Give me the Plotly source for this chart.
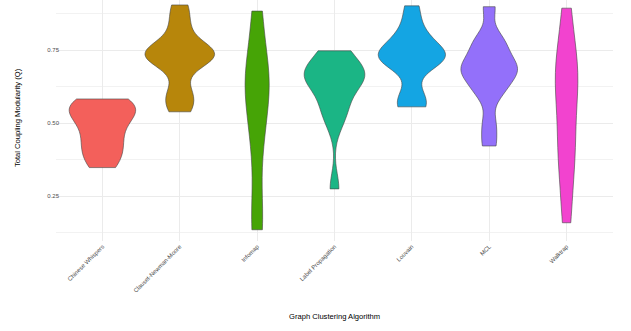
import plotly.graph_objects as go

# Categories (x axis)
algorithms = ["Chinese Whispers", "Clauset-Newman-Moore", "Infomap",
              "Label Propagation", "Louvain", "MCL", "Walktrap"]

# Total coupling modularity samples per algorithm (estimated from the violin outlines)
chinese_whispers = [0.348, 0.378, 0.408, 0.432, 0.462, 0.491, 0.520, 0.535, 0.540,
                    0.567, 0.576, 0.583]
clauset_newman_moore = [0.539, 0.578, 0.609, 0.689, 0.736, 0.736, 0.737, 0.737, 0.738,
                        0.792, 0.848, 0.905]
infomap = [0.135, 0.135, 0.283, 0.461, 0.471, 0.571, 0.642, 0.658, 0.659, 0.681,
           0.839, 0.884]
label_propagation = [0.275, 0.504, 0.558, 0.562, 0.662, 0.663, 0.663, 0.663, 0.664,
                     0.665, 0.748, 0.748]
louvain = [0.556, 0.556, 0.605, 0.714, 0.714, 0.719, 0.732, 0.733, 0.765, 0.785,
           0.833, 0.902]
mcl = [0.422, 0.497, 0.603, 0.621, 0.668, 0.682, 0.685, 0.698, 0.733, 0.779, 0.783,
       0.899]
walktrap = [0.159, 0.245, 0.406, 0.407, 0.413, 0.554, 0.658, 0.659, 0.668, 0.673,
            0.810, 0.894]

series = [chinese_whispers, clauset_newman_moore, infomap, label_propagation,
          louvain, mcl, walktrap]

# Kernel bandwidths per violin
bandwidths = [0.0388, 0.040, 0.1086, 0.0537, 0.0425, 0.0412, 0.1141]

colors = ["#F3605B", "#B7860B", "#46A406", "#1BB585", "#14A5E3", "#9370FA", "#F243CF"]

# Axis ticks
y_tickvals = [0.25, 0.50, 0.75]
y_ticktext = ["0.25", "0.50", "0.75"]
y_minorvals = [0.125, 0.375, 0.625, 0.875]

fig = go.Figure()
for name, vals, bw, col in zip(algorithms, series, bandwidths, colors):
    fig.add_trace(go.Violin(
        x=[name] * len(vals),
        y=vals,
        name=name,
        bandwidth=bw,
        spanmode="hard",
        scalegroup="all",
        scalemode="width",
        points=False,
        fillcolor=col,
        opacity=1,
        line=dict(color="#454545", width=0.6),
        showlegend=False,
        hoverinfo="skip",
    ))

font_family = "Liberation Sans, Arial, Helvetica, sans-serif"

fig.update_layout(
    width=631, height=331,
    margin=dict(l=56, r=18, t=0, b=90),
    plot_bgcolor="white", paper_bgcolor="white",
    violinmode="overlay", violingap=0.1, violingroupgap=0,
    showlegend=False,
    font=dict(family=font_family, color="#000000"),
    xaxis=dict(
        type="category", categoryorder="array", categoryarray=algorithms,
        range=[-0.6, 6.6], tickangle=-45,
        tickfont=dict(size=6, color="#4D4D4D", family=font_family),
        showgrid=True, gridcolor="#EBEBEB", gridwidth=1,
        zeroline=False, showline=False, ticks="", automargin=False,
    ),
    yaxis=dict(
        range=[0.0965, 0.922],
        tickmode="array", tickvals=y_tickvals, ticktext=y_ticktext,
        tickfont=dict(size=6, color="#4D4D4D", family=font_family),
        showgrid=True, gridcolor="#EBEBEB", gridwidth=1,
        minor=dict(tickmode="array", tickvals=y_minorvals, showgrid=True,
                   gridcolor="#F2F2F2", gridwidth=0.6),
        zeroline=False, showline=False, ticks="", ticklen=0,
        ticklabelstandoff=-4, automargin=False,
    ),
    annotations=[
        dict(text="Graph Clustering Algorithm", x=0.5, y=-0.314,
             xref="paper", yref="paper", showarrow=False,
             xanchor="center", yanchor="middle",
             font=dict(size=7.6, color="#000000", family=font_family)),
        dict(text="Total Coupling Modularity (Q)", x=-0.0691, y=0.512,
             xref="paper", yref="paper", showarrow=False, textangle=-90,
             xanchor="center", yanchor="middle",
             font=dict(size=7.6, color="#000000", family=font_family)),
    ],
)

fig.write_html("out.html")
